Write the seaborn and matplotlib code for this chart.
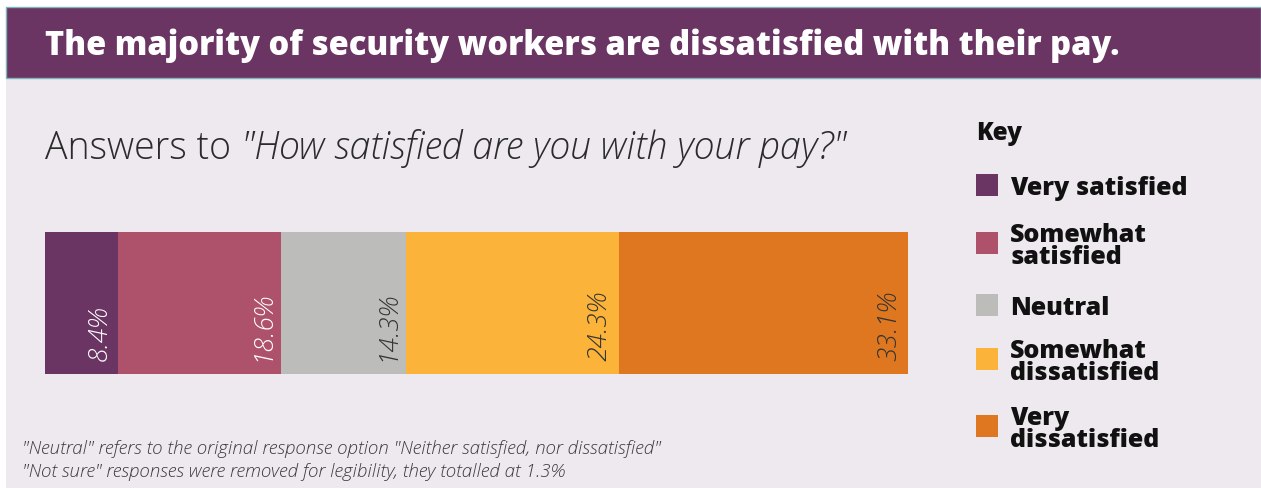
import matplotlib
matplotlib.use("Agg")
import matplotlib.pyplot as plt
from matplotlib.patches import Rectangle
import numpy as np
import pandas as pd
import seaborn as sns

# ---- data -------------------------------------------------------------
categories = ["Very satisfied", "Somewhat satisfied", "Neutral",
              "Somewhat dissatisfied", "Very dissatisfied"]
legend_labels = ["Very satisfied", "Somewhat\nsatisfied", "Neutral",
                 "Somewhat\ndissatisfied", "Very\ndissatisfied"]
shares = [8.4, 18.6, 14.3, 24.3, 33.1]
value_labels = ["8.4%", "18.6%", "14.3%", "24.3%", "33.1%"]

title = "The majority of security workers are dissatisfied with their pay."
subtitle_plain = "Answers to "
subtitle_quote = "\"How satisfied are you with your pay?\""
footnotes = ["\"Neutral\" refers to the original response option \"Neither satisfied, nor dissatisfied\"",
             "\"Not sure\" responses were removed for legibility, they totalled at 1.3%"]

# ---- style ------------------------------------------------------------
colors = ["#6A3463", "#AE526B", "#BCBDBB", "#FBB33A", "#DF7720"]
label_colors = ["white", "white", "#333333", "#333333", "#333333"]
panel_bg = "#EDE9EF"
header_bg = "#6A3463"

sns.set_theme(style="white")
plt.rcParams["font.family"] = ["Open Sans", "DejaVu Sans"]

W, H = 1261, 488
fig = plt.figure(figsize=(W / 100, H / 100), dpi=100)
fig.patch.set_facecolor("white")


def fx(px):
    return px / W


def fy(py):
    return 1 - py / H


# background panel and header band
fig.patches.append(Rectangle((fx(6), 0), 1 - fx(6), fy(7), transform=fig.transFigure,
                             facecolor=panel_bg, edgecolor="none", zorder=-10))
fig.patches.append(Rectangle((fx(6), fy(78)), 1 - fx(6), (78 - 7) / H, transform=fig.transFigure,
                             facecolor=header_bg, edgecolor="#7DB5B8", linewidth=1, zorder=-5))

fig.text(fx(45), fy(55), title, color="white", fontsize=23.5, fontweight="heavy",
         va="baseline", ha="left")

# ---- stacked bar ------------------------------------------------------
ax = fig.add_axes([fx(45), 1 - 374 / H, 863 / W, 142 / H])
ax.set_facecolor("none")
ends = np.cumsum(shares)
df = pd.DataFrame({"category": categories, "end": ends, "row": ["pay"] * len(shares)})

# widest cumulative bar first, so each narrower one sits on top
for i in reversed(range(len(df))):
    sns.barplot(data=df.iloc[[i]], x="end", y="row", orient="h", color=colors[i],
                saturation=1, width=1.0, ax=ax, linewidth=0)

ax.set_xlim(0, ends[-1])
ax.set_ylim(0.5, -0.5)
ax.axis("off")

for end, lab, c in zip(ends, value_labels, label_colors):
    ax.annotate(lab, xy=(end, 0.5), xycoords="data", xytext=(-6, 13),
                textcoords="offset pixels", rotation=90, ha="right", va="bottom",
                color=c, fontsize=19, fontweight="light", style="italic")

# subtitle: plain lead-in followed by the italic question
t1 = fig.text(fx(45), fy(159), subtitle_plain, color="#2b2b2b", fontsize=27,
              fontweight="light", va="baseline", ha="left")
ax.annotate(subtitle_quote, xy=(1, 0), xycoords=t1, va="bottom", ha="left",
            color="#2b2b2b", fontsize=27, fontweight="light", style="italic",
            annotation_clip=False)

# ---- key --------------------------------------------------------------
fig.text(fx(976), fy(140), "Key", fontsize=17.5, fontweight="heavy", color="#111111",
         va="baseline", ha="left")
square_centers = [185, 243, 305, 359, 426]
for lab, c, yc in zip(legend_labels, colors, square_centers):
    fig.patches.append(Rectangle((fx(976), fy(yc + 11)), 22 / W, 22 / H,
                                 transform=fig.transFigure, facecolor=c, edgecolor="none"))
    fig.text(fx(1010), fy(yc + 3.5), lab, fontsize=18, fontweight="heavy", color="#111111",
             va="center", ha="left", linespacing=0.85)

# ---- notes ------------------------------------------------------------
for y, note in zip([454, 477], footnotes):
    fig.text(fx(22), fy(y), note, fontsize=13.5, style="italic", fontweight="light",
             color="#3a3a3a", va="baseline", ha="left")

fig.savefig("out.png", dpi=100, facecolor=fig.get_facecolor())
